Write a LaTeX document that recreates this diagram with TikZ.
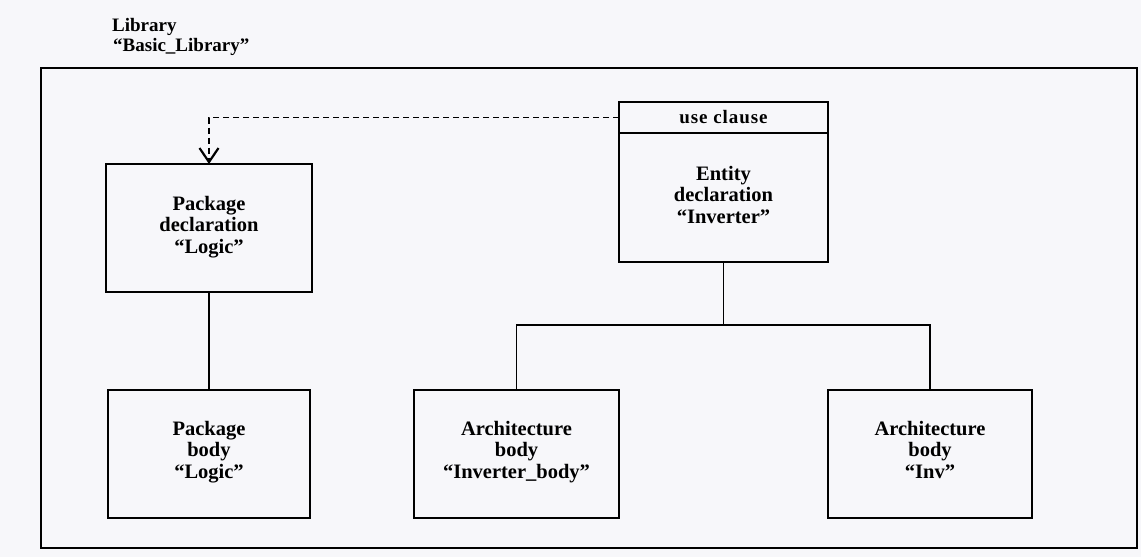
\documentclass[tikz,border=0pt]{standalone}
\usepackage{fontspec}
\setmainfont{Liberation Serif}
\usetikzlibrary{arrows.meta,calc}
\definecolor{paper}{RGB}{247,247,250}
\begin{document}
\begin{tikzpicture}[x=1pt,y=-1pt,
  box/.style={draw=black,line width=1.8pt,outer sep=0pt,minimum width=204pt,minimum height=128pt,inner sep=0pt,align=center,font=\fontsize{20.5}{21.5}\selectfont\bfseries},
  boxtext/.style={anchor=north,inner sep=0pt,align=center,font=\fontsize{20.5}{21.5}\selectfont\bfseries},
  frame/.style={draw=black,line width=1.6pt},
  title/.style={anchor=base west,inner sep=0pt,font=\fontsize{19}{14}\selectfont\bfseries},
  link/.style={draw=black,line width=1.8pt},
  usearrow/.style={draw=black,line width=1.6pt,dash pattern=on 6pt off 4pt,-{Straight Barb[length=14pt,width=19pt,line width=2.2pt]}}]
\useasboundingbox (0,0) rectangle (1141,557);
\fill[paper] (0,0) rectangle (1141,557);
% outer library frame
\node[frame,minimum width=1096pt,minimum height=480pt,inner sep=0pt] (lib) at (589,308) {};
\node[title] (libtitle) at (112,31) {Library};
\node[title] (libname) at (113,51) {``Basic\_Library''};
% package declaration
\node[box,minimum width=206pt,minimum height=128pt] (pdecl) at (209,228) {};
\node[boxtext] (pdecltext) at (209,196) {Package\\declaration\\``Logic''};
% package body
\node[box,minimum width=202pt,minimum height=128pt] (pbody) at (209,454) {};
\node[boxtext] (pbodytext) at (209,421) {Package\\body\\``Logic''};
% entity with use clause
\node[box,minimum width=209pt,minimum height=31pt,font=\fontsize{19}{20}\selectfont\bfseries\addfontfeature{LetterSpace=5}] (use) at (723.5,117.5) {use clause};
\node[box,minimum width=209pt,minimum height=129pt,anchor=north] (ent) at (use.south) {};
\node[boxtext] (enttext) at (723.5,166) {Entity\\declaration\\``Inverter''};
% architectures
\node[box,minimum width=205pt,minimum height=128pt] (arch1) at (516.5,454) {};
\node[boxtext] (arch1text) at (516.5,421) {Architecture\\body\\``Inverter\_body''};
\node[box,minimum width=204pt,minimum height=128pt] (arch2) at (930,454) {};
\node[boxtext] (arch2text) at (930,421) {Architecture\\body\\``Inv''};
% connectors
\draw[link] (pdecl.south) -- (pbody.north);
\coordinate (junc) at ($(ent.south)+(0,63)$);
\draw[link] (ent.south) -- (junc);
\draw[link] (arch1.north) |- (junc) -| (arch2.north);
\draw[usearrow] (use.west) -| (pdecl.north);
\end{tikzpicture}
\end{document}
